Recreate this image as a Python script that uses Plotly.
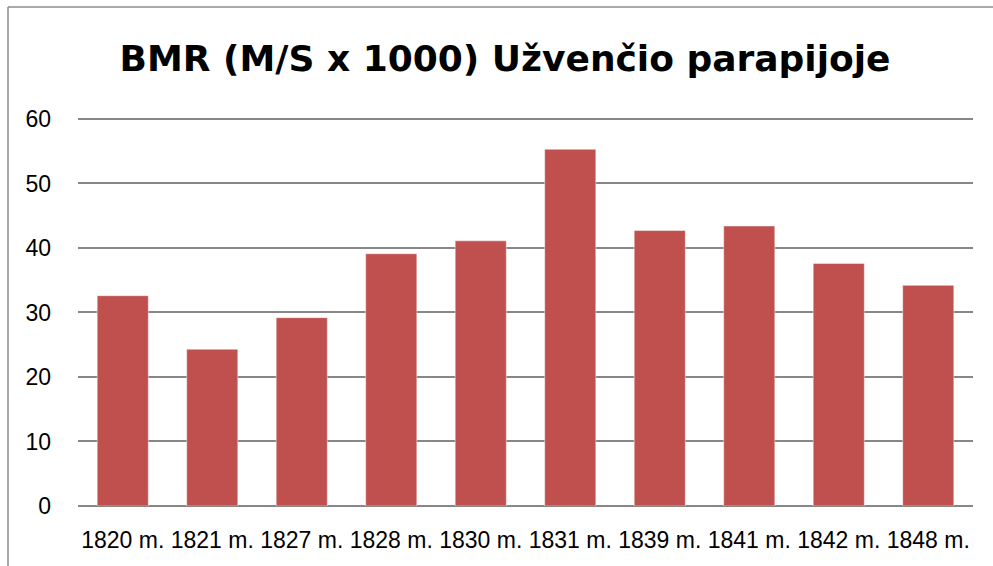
import plotly.graph_objects as go

categories = ["1820 m.", "1821 m.", "1827 m.", "1828 m.", "1830 m.",
              "1831 m.", "1839 m.", "1841 m.", "1842 m.", "1848 m."]
values = [32.6, 24.3, 29.2, 39.1, 41.1, 55.3, 42.7, 43.4, 37.6, 34.2]
y_ticks = [0, 10, 20, 30, 40, 50, 60]
title_text = "BMR (M/S x 1000) Užvenčio parapijoje"

W, H = 993, 566
L, R, T, B = 78, 20, 117, 60

fig = go.Figure(go.Bar(
    x=categories, y=values,
    marker=dict(color="#C0504D", line=dict(color="rgba(255,255,255,0.45)", width=1)),
    width=0.571,
))

font_family = "Liberation Sans, Arial, sans-serif"
fig.update_layout(
    width=W, height=H,
    margin=dict(l=L, r=R, t=T, b=B, pad=0, autoexpand=False),
    paper_bgcolor="white", plot_bgcolor="white",
    showlegend=False,
    bargap=0.429,
    title=dict(text=f"<b>{title_text}</b>", xref="container", yref="container",
               x=505 / W, y=1 - 58 / H, xanchor="center", yanchor="middle",
               font=dict(family="DejaVu Sans, sans-serif", size=36, color="black")),
    font=dict(family=font_family, size=23, color="black"),
)
fig.update_yaxes(range=[0, 60.3], tickvals=y_ticks, showgrid=True,
                 gridcolor="#878787", gridwidth=1.8, zeroline=True,
                 zerolinecolor="#878787", zerolinewidth=1.8, showline=False,
                 ticks="", ticklabelstandoff=26, tickfont=dict(size=23),
                 automargin=False)
fig.update_xaxes(showgrid=False, showline=False, ticks="",
                 ticklabelstandoff=18, tickfont=dict(size=23), tickangle=0,
                 automargin=False)

# chart border (left and top edges)
ph = H - T - B
pw = W - L - R
top_y = (H - B - 7) / ph
left_x = (8 - L) / pw
fig.add_shape(type="line", xref="paper", yref="paper", x0=left_x, x1=left_x,
              y0=-0.3, y1=top_y, line=dict(color="#8C8C8C", width=1.5))
fig.add_shape(type="line", xref="paper", yref="paper", x0=left_x, x1=1.1,
              y0=top_y, y1=top_y, line=dict(color="#8C8C8C", width=1.5))

fig.write_html("out.html", config={"displayModeBar": False},
               post_script="document.body.style.margin='0';document.body.style.overflow='hidden';")
